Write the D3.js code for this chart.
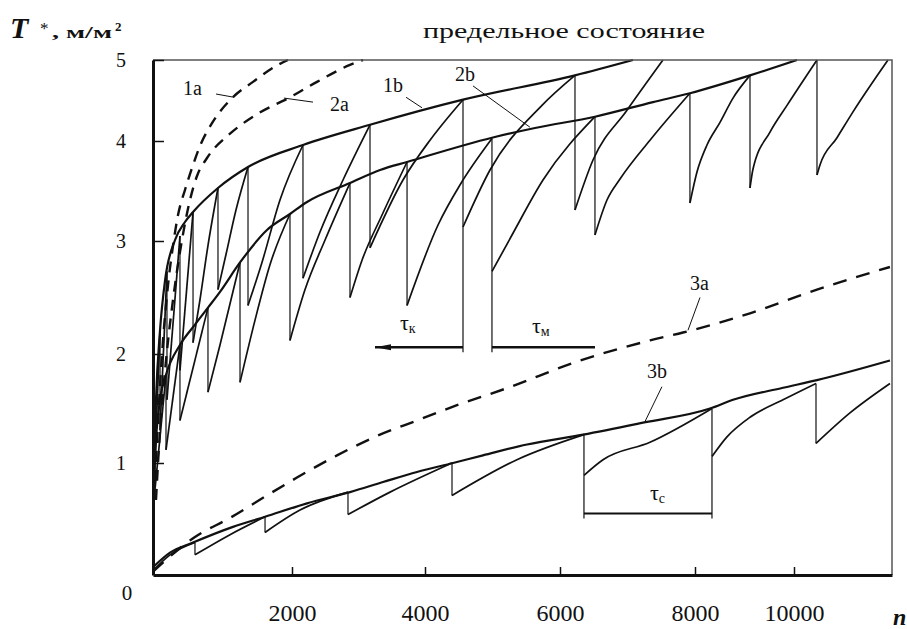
<!DOCTYPE html>
<html>
<head>
<meta charset="utf-8">
<script src="https://cdn.jsdelivr.net/npm/d3@7"></script>
<style>
  body { margin: 0; background: #fff; }
  svg { display: block; }
  text { font-family: "Liberation Serif", "DejaVu Serif", serif; fill: #111; }
</style>
</head>
<body>
<div id="chart"></div>
<script>
// ticks
const xTicks = [2000, 4000, 6000, 8000, 10000];
const yTicks = [1, 2, 3, 4, 5];

// dashed curves (n, T*)
const curve1a = [[14,0.67],[72,1.39],[144,2.12],[216,2.61],[288,2.96],[360,3.26],[460,3.51],[561,3.73],[676,3.95],[849,4.22],[1137,4.53],[1439,4.73],[1799,4.94],[1942,5.0]];
const curve2a = [[43,0.67],[101,1.30],[187,1.94],[288,2.48],[417,3.01],[532,3.41],[633,3.65],[777,3.83],[1108,4.09],[1496,4.33],[1971,4.54],[2376,4.73],[2872,4.94],[3068,5.0]];
const curve3a = [[0,0.03],[604,0.34],[1108,0.51],[1612,0.70],[2075,0.87],[2677,1.07],[3323,1.26],[3880,1.39],[4474,1.53],[5229,1.69],[6250,1.93],[7333,2.12],[7822,2.19],[9111,2.36],[10469,2.57],[11958,2.77]];

// envelopes
const env1b = [[0,0.58],[43,1.58],[101,2.21],[173,2.65],[317,3.01],[460,3.19],[576,3.29],[935,3.53],[1367,3.74],[2165,3.96],[3173,4.20],[4563,4.51],[6222,4.81],[7081,5.0]];
const env2b = [[0,0.58],[43,1.21],[101,1.58],[187,1.81],[388,2.08],[604,2.26],[791,2.41],[964,2.55],[1252,2.81],[1640,3.11],[1971,3.27],[2226,3.39],[2872,3.58],[3324,3.71],[3730,3.79],[4992,4.04],[5629,4.16],[6518,4.30],[7377,4.48],[7925,4.59],[9111,4.81],[10061,5.0]];
const env3b = [[0,0.07],[245,0.20],[576,0.29],[1151,0.43],[1612,0.52],[2226,0.64],[2872,0.74],[3369,0.83],[3880,0.92],[4415,1.00],[4859,1.07],[5511,1.17],[6341,1.26],[7229,1.37],[8303,1.50],[8768,1.58],[9778,1.69],[10469,1.76],[11959,1.94]];

// saw teeth: each tooth rises, then drops at its last n
const teeth1b = [
  [[0,0.58],[101,2.21]],
  [[101,1.30],[201,2.73]],
  [[201,1.58],[388,3.05]],
  [[388,1.85],[576,3.29]],
  [[576,2.10],[676,2.48],[791,2.96],[935,3.53]],
  [[935,2.57],[1050,2.88],[1194,3.31],[1367,3.74]],
  [[1367,2.43],[1568,2.81],[1827,3.41],[2165,3.96]],
  [[2165,2.67],[2421,3.09],[2767,3.61],[3173,4.20]],
  [[3173,2.94],[3669,3.61],[4074,4.01],[4563,4.51]],
  [[4563,3.14],[4963,3.71],[5733,4.44],[6222,4.81]],
  [[6222,3.31],[6489,3.81],[6992,4.38],[7525,5.0]]
];
const teeth2b = [
  [[0,0.58],[187,1.81]],
  [[187,1.12],[388,2.08]],
  [[388,1.39],[791,2.41]],
  [[791,1.65],[964,2.08],[1252,2.81]],
  [[1252,1.74],[1468,2.30],[1683,2.79],[1971,3.27]],
  [[1971,2.12],[2196,2.57],[2497,3.01],[2872,3.58]],
  [[2872,2.50],[3053,2.83],[3354,3.26],[3730,3.79]],
  [[3730,2.43],[4193,3.16],[4518,3.56],[4992,4.03]],
  [[4992,2.73],[5289,3.06],[5748,3.61],[6518,4.30]],
  [[6518,3.06],[6696,3.41],[6889,3.62],[7333,4.01],[7925,4.59]],
  [[7925,3.38],[8040,3.69],[8242,3.96],[8505,4.23],[8768,4.53],[9111,4.81]],
  [[9111,3.53],[9172,3.72],[9515,4.11],[9859,4.44],[10469,5.0]],
  [[10469,3.66],[10530,3.76],[10877,4.04],[11204,4.36],[11918,5.0]]
];
const teeth3b = [
  [[0,0.04],[245,0.18],[604,0.29]],
  [[604,0.18],[1108,0.36],[1612,0.52]],
  [[1612,0.38],[2120,0.58],[2842,0.74]],
  [[2842,0.54],[3474,0.74],[4400,1.00]],
  [[4400,0.71],[5362,1.03],[6355,1.26]],
  [[6355,0.89],[6637,1.03],[7333,1.19],[8343,1.50]],
  [[8343,1.06],[8646,1.24],[9111,1.42],[9778,1.58],[10449,1.73]],
  [[10449,1.18],[11142,1.46],[11959,1.73]]
];

// period markers
const tauMarks = [
  { sub: "к", n0: 3248, n1: 4563, T: 2.06, ends: [[4563, 3.14]], arrow: true,  lab: [3624, 2.21] },
  { sub: "м", n0: 4992, n1: 6518, T: 2.06, ends: [[4992, 2.73]], arrow: false, lab: [5585, 2.19] },
  { sub: "с", n0: 6355, n1: 8343, T: 0.55, ends: [[6355, 0.89], [8343, 1.06]], arrow: false, lab: [7333, 0.67] }
];

const curveLabels = [
  { t: "1a", at: [432, 4.57], lead: [[907, 4.58], [1166, 4.54]] },
  { t: "2a", at: [2572, 4.37], lead: [[2316, 4.48], [1884, 4.53]] },
  { t: "1b", at: [3369, 4.60], lead: [[3715, 4.54], [3955, 4.41]] },
  { t: "2b", at: [4444, 4.74], lead: [[4711, 4.68], [5555, 4.17]] },
  { t: "3a", at: [7925, 2.57], lead: [[8101, 2.50], [7896, 2.21]] },
  { t: "3b", at: [7288, 1.78], lead: [[7510, 1.70], [7259, 1.38]] }
];

const W = 907, H = 629;
const svg = d3.select("#chart").append("svg").attr("width", W).attr("height", H);

// the scan is not evenly spaced, so the scales are piecewise
const x = d3.scaleLinear()
  .domain([0, 2000, 4000, 6000, 8000, 10000, 12000])
  .range([153, 292, 425, 560, 695, 794, 892]);
const y = d3.scaleLinear()
  .domain([0, 1, 2, 3, 4, 5])
  .range([575, 463, 354, 241, 141, 60]);

svg.append("defs").append("clipPath").attr("id", "plot")
  .append("rect").attr("x", x(0)).attr("y", y(5) - 1)
  .attr("width", x(12000) - x(0)).attr("height", y(0) - y(5) + 1);

const line = d3.line().x(d => x(d[0])).y(d => y(d[1])).curve(d3.curveMonotoneX);
const g = svg.append("g").attr("clip-path", "url(#plot)");

// frame top / right
svg.append("path")
  .attr("d", `M${x(0)},${y(5)}H${x(12000)}V${y(0)}`)
  .attr("fill", "none").attr("stroke", "#555").attr("stroke-width", 1.5);

// dashed
[curve1a, curve2a].forEach(c => {
  g.append("path").datum(c).attr("d", line)
    .attr("fill", "none").attr("stroke", "#111").attr("stroke-width", 2.4)
    .attr("stroke-dasharray", "11,8");
});
g.append("path").datum(curve3a).attr("d", line)
  .attr("fill", "none").attr("stroke", "#111").attr("stroke-width", 2.4)
  .attr("stroke-dasharray", "14,10");

// envelopes
[env1b, env2b, env3b].forEach(c => {
  g.append("path").datum(c).attr("d", line)
    .attr("fill", "none").attr("stroke", "#111").attr("stroke-width", 2.2);
});

// teeth and drops
[teeth1b, teeth2b, teeth3b].forEach(set => {
  set.forEach((tooth, i) => {
    g.append("path").datum(tooth).attr("d", line)
      .attr("fill", "none").attr("stroke", "#111").attr("stroke-width", 1.7);
    const next = set[i + 1];
    if (next) {
      const top = tooth[tooth.length - 1];
      g.append("line")
        .attr("x1", x(top[0])).attr("x2", x(top[0]))
        .attr("y1", y(top[1])).attr("y2", y(next[0][1]))
        .attr("stroke", "#111").attr("stroke-width", 1.2);
    }
  });
});

// tau markers
tauMarks.forEach(m => {
  m.ends.forEach(e => {
    g.append("line")
      .attr("x1", x(e[0])).attr("x2", x(e[0]))
      .attr("y1", y(e[1])).attr("y2", y(m.T) + 5)
      .attr("stroke", "#111").attr("stroke-width", 1.2);
  });
  g.append("line")
    .attr("x1", x(m.n0)).attr("x2", x(m.n1))
    .attr("y1", y(m.T)).attr("y2", y(m.T))
    .attr("stroke", "#111").attr("stroke-width", m.sub === "с" ? 2 : 2.6);
  if (m.arrow) {
    const ax = x(m.n0), ay = y(m.T);
    g.append("path")
      .attr("d", `M${ax},${ay}L${ax + 16},${ay - 3}L${ax + 16},${ay + 3}Z`)
      .attr("fill", "#111");
  }
  const t = svg.append("text")
    .attr("x", x(m.lab[0])).attr("y", y(m.lab[1]))
    .attr("font-size", 22);
  t.append("tspan").text("τ");
  t.append("tspan").attr("font-size", 14).attr("dy", 3).text(m.sub);
});

// curve labels
curveLabels.forEach(l => {
  svg.append("text")
    .attr("x", x(l.at[0])).attr("y", y(l.at[1]))
    .attr("font-size", 20).text(l.t);
  svg.append("line")
    .attr("x1", x(l.lead[0][0])).attr("y1", y(l.lead[0][1]))
    .attr("x2", x(l.lead[1][0])).attr("y2", y(l.lead[1][1]))
    .attr("stroke", "#111").attr("stroke-width", 1);
});

// axes
const xAxis = svg.append("g")
  .attr("transform", `translate(0,${y(0)})`)
  .call(d3.axisBottom(x).tickValues(xTicks).tickFormat(d3.format("d"))
    .tickSize(-8).tickSizeOuter(0).tickPadding(29));
xAxis.select(".domain").attr("stroke", "#111").attr("stroke-width", 3);
xAxis.selectAll(".tick line").attr("stroke", "#111").attr("stroke-width", 1.5);
xAxis.selectAll(".tick text").attr("font-size", 24).attr("fill", "#333")
  .attr("font-family", "Liberation Serif, serif");

const yAxis = svg.append("g")
  .attr("transform", `translate(${x(0)},0)`)
  .call(d3.axisLeft(y).tickValues(yTicks).tickFormat(d3.format("d"))
    .tickSize(-11).tickSizeOuter(0).tickPadding(27));
yAxis.select(".domain").attr("stroke", "#111").attr("stroke-width", 3);
yAxis.selectAll(".tick line").attr("stroke", "#111").attr("stroke-width", 1.5);
yAxis.selectAll(".tick text").attr("font-size", 20).attr("fill", "#333")
  .attr("font-family", "Liberation Serif, serif");

// zero at the corner
svg.append("text")
  .attr("x", x(0) - 26).attr("y", y(0) + 25)
  .attr("text-anchor", "middle").attr("font-size", 21).attr("fill", "#333").text("0");

// axis titles
svg.append("text").attr("x", 893).attr("y", 625)
  .attr("font-size", 24).attr("font-weight", "bold").attr("font-style", "italic").text("n");

svg.append("text").attr("x", 10).attr("y", 38)
  .attr("font-size", 30).attr("font-weight", "bold").attr("font-style", "italic").text("T");
svg.append("text").attr("x", 40).attr("y", 34).attr("font-size", 17).text("*");
svg.append("text").attr("x", 52).attr("y", 38)
  .attr("font-size", 17).attr("font-weight", "bold")
  .attr("textLength", 60).attr("lengthAdjust", "spacingAndGlyphs").text(", м/м");
svg.append("text").attr("x", 115).attr("y", 31)
  .attr("font-size", 13).attr("font-weight", "bold").text("2");

svg.append("text").attr("x", 423).attr("y", 38)
  .attr("font-size", 20).attr("textLength", 282).attr("lengthAdjust", "spacingAndGlyphs")
  .text("предельное  состояние");
</script>
</body>
</html>
